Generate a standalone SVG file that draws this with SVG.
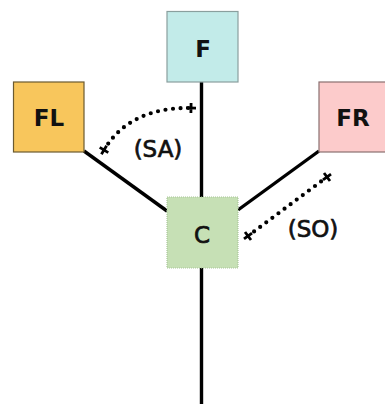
<svg xmlns="http://www.w3.org/2000/svg" width="385" height="404" viewBox="0 0 385 404">
<style>
.box{stroke-width:1.2}
.lbl{font-family:"DejaVu Sans","Verdana",sans-serif;font-size:23px;fill:#111;text-anchor:middle}
.m{stroke:#111;stroke-width:0.7}
.b{font-weight:bold;font-size:23px}
.edge{stroke:#000;stroke-width:3.4;fill:none}
.dot{stroke:#000;stroke-width:4.2;fill:none;stroke-linecap:round;stroke-dasharray:0 7.6}
</style>
<defs>
<marker id="cross" viewBox="-6 -6 12 12" markerWidth="12" markerHeight="12" markerUnits="userSpaceOnUse" orient="auto">
<path d="M-5 0H5M0 -5V5" stroke="#000" stroke-width="2.8"/>
</marker>
</defs>
<rect width="385" height="404" fill="#fff"/>
<g id="connectors">
<line class="edge" x1="201.5" y1="82" x2="201.5" y2="197"/>
<line class="edge" x1="201.5" y1="268" x2="201.5" y2="404"/>
<line class="edge" x1="84" y1="151" x2="167" y2="211"/>
<line class="edge" x1="319" y1="151" x2="238" y2="210"/>
<path class="dot" d="M104 150 Q130 107 191 108" marker-start="url(#cross)" marker-end="url(#cross)"/>
<path class="dot" d="M248 236 L327 177" marker-start="url(#cross)" marker-end="url(#cross)"/>
<text class="lbl m" x="158" y="157">(SA)</text>
<text class="lbl m" x="313" y="237">(SO)</text>
</g>
<g id="F">
<rect class="box" x="167" y="11.5" width="71" height="70.5" fill="#c2ebe9" stroke="#8a9f9e"/>
<text class="lbl b" x="203" y="57">F</text>
</g>
<g id="FL">
<rect class="box" x="13.5" y="82" width="70.5" height="70" fill="#f8c65c" stroke="#6b5a30"/>
<text class="lbl b" x="49" y="126">FL</text>
</g>
<g id="FR">
<rect class="box" x="319" y="82" width="70" height="70" fill="#fccbcb" stroke="#8a7070"/>
<text class="lbl b" x="353" y="126">FR</text>
</g>
<g id="C">
<rect class="box" x="167" y="197" width="71" height="71" fill="#c6e0b5" stroke="#a9c59a" stroke-dasharray="1 1"/>
<text class="lbl m" x="202" y="243">C</text>
</g>
</svg>
